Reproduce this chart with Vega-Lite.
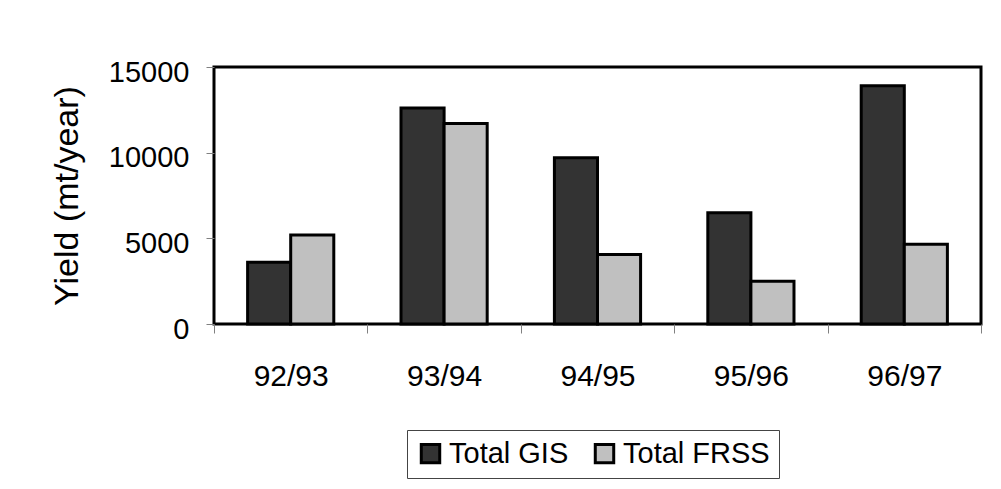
{
  "$schema": "https://vega.github.io/schema/vega-lite/v6.json",
  "autosize": {"type": "none"},
  "width": 767,
  "height": 257,
  "padding": {"left": 214, "top": 67, "right": 20, "bottom": 165},
  "background": "white",
  "config": {
    "font": "Liberation Sans",
    "view": {"stroke": "black", "strokeWidth": 3}
  },
  "data": {
    "values": [
      {"season": "92/93", "series": "Total GIS", "yield": 3600},
      {"season": "92/93", "series": "Total FRSS", "yield": 5200},
      {"season": "93/94", "series": "Total GIS", "yield": 12600},
      {"season": "93/94", "series": "Total FRSS", "yield": 11700},
      {"season": "94/95", "series": "Total GIS", "yield": 9700},
      {"season": "94/95", "series": "Total FRSS", "yield": 4050},
      {"season": "95/96", "series": "Total GIS", "yield": 6500},
      {"season": "95/96", "series": "Total FRSS", "yield": 2500},
      {"season": "96/97", "series": "Total GIS", "yield": 13900},
      {"season": "96/97", "series": "Total FRSS", "yield": 4650}
    ]
  },
  "mark": {"type": "bar", "stroke": "black", "strokeWidth": 3},
  "encoding": {
    "x": {
      "field": "season",
      "type": "nominal",
      "sort": null,
      "scale": {"paddingInner": 0, "paddingOuter": 0},
      "axis": {
        "title": null,
        "labelAngle": 0,
        "labelFontSize": 30,
        "labelColor": "black",
        "labelPadding": 28,
        "domain": false,
        "tickBand": "extent",
        "tickSize": 9,
        "tickColor": "#808080",
        "tickWidth": 1
      }
    },
    "xOffset": {
      "field": "series",
      "type": "nominal",
      "sort": ["Total GIS", "Total FRSS"],
      "scale": {"paddingInner": 0, "paddingOuter": 0.78}
    },
    "y": {
      "field": "yield",
      "type": "quantitative",
      "scale": {"domain": [0, 15000], "nice": false},
      "axis": {
        "title": "Yield (mt/year)",
        "titleFontSize": 34,
        "titleFontWeight": "normal",
        "titleColor": "black",
        "titlePadding": 24,
        "values": [0, 5000, 10000, 15000],
        "format": "d",
        "labelFontSize": 29,
        "labelColor": "black",
        "labelPadding": 17,
        "labelOffset": 5,
        "domain": false,
        "grid": false,
        "tickSize": 8,
        "tickColor": "#808080",
        "tickWidth": 1
      }
    },
    "color": {
      "field": "series",
      "type": "nominal",
      "sort": ["Total GIS", "Total FRSS"],
      "scale": {"domain": ["Total GIS", "Total FRSS"], "range": ["#333333", "#c0c0c0"]},
      "legend": {
        "title": null,
        "orient": "none",
        "direction": "horizontal",
        "legendX": 193,
        "legendY": 363,
        "symbolType": "square",
        "symbolSize": 340,
        "symbolStrokeColor": "black",
        "symbolStrokeWidth": 3,
        "symbolOpacity": 1,
        "labelFontSize": 29,
        "labelColor": "black",
        "labelOffset": 4,
        "columnPadding": 20,
        "padding": 9,
        "strokeColor": "#444444",
        "fillColor": "white"
      }
    }
  }
}
